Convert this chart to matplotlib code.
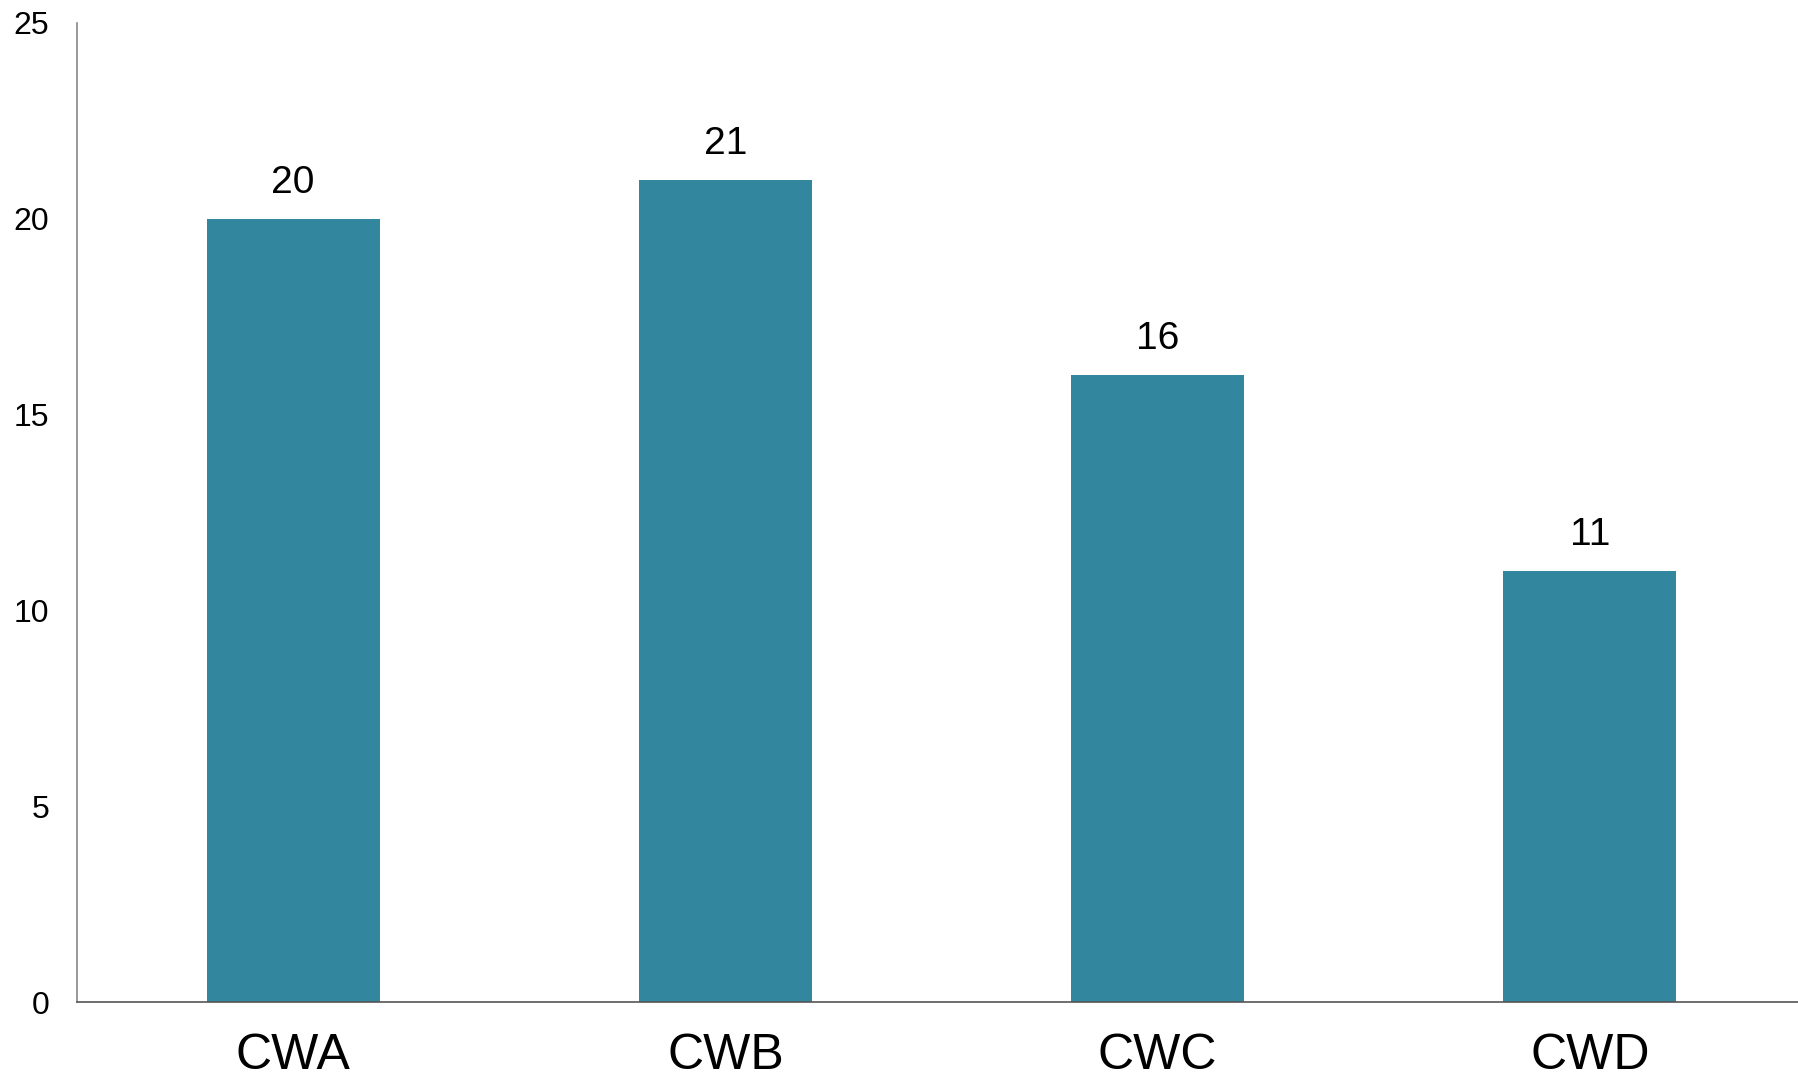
import matplotlib.pyplot as plt

categories = ["CWA", "CWB", "CWC", "CWD"]
values = [20, 21, 16, 11]
y_ticks = [0, 5, 10, 15, 20, 25]

plt.rcParams["font.family"] = ["Liberation Sans", "DejaVu Sans"]

fig = plt.figure(figsize=(17.98, 10.78), dpi=100)
ax = fig.add_axes([0.0428, 0.0705, 0.9617, 0.9082])

bars = ax.bar(range(len(categories)), values, width=0.4, color="#32869E")

for rect, v in zip(bars, values):
    ax.annotate(str(v), (rect.get_x() + rect.get_width() / 2, v),
                xytext=(0, 13), textcoords="offset points",
                ha="center", va="bottom", fontsize=28)

ax.set_xlim(-0.5, 3.5)
ax.set_ylim(0, 25)
ax.set_yticks(y_ticks)
ax.set_xticks(range(len(categories)))
ax.set_xticklabels(categories, fontsize=36)
ax.tick_params(axis="y", length=0, labelsize=23, pad=20)
ax.tick_params(axis="x", length=0, pad=22)

for side in ["top", "right"]:
    ax.spines[side].set_visible(False)
ax.spines["left"].set_color("#888888")
ax.spines["bottom"].set_color("#555555")
ax.spines["left"].set_linewidth(1.2)
ax.spines["bottom"].set_linewidth(1.2)

fig.savefig("out.png", dpi=100)
